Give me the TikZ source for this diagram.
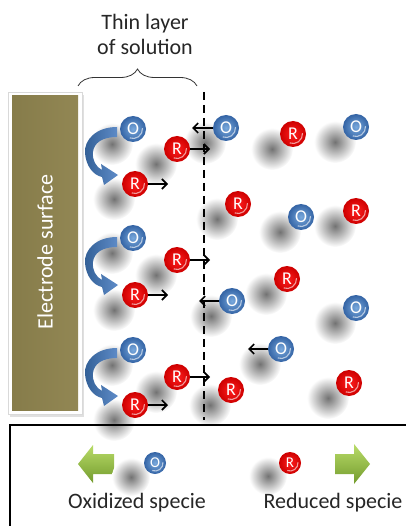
\documentclass[tikz,border=0pt]{standalone}
\usepackage{fontspec}
\setmainfont{Carlito}
\usetikzlibrary{arrows.meta,decorations.pathreplacing,calc}
\pgfdeclarelayer{background}
\pgfsetlayers{background,main}
\definecolor{olivebar}{RGB}{146,135,84}
\definecolor{olivedark}{RGB}{134,124,74}
\definecolor{rin}{RGB}{255,30,30}
\definecolor{rout}{RGB}{205,0,0}
\definecolor{oin}{RGB}{120,168,220}
\definecolor{oout}{RGB}{52,100,165}
\definecolor{curvdark}{RGB}{50,95,150}
\definecolor{curvlight}{RGB}{95,140,200}
\definecolor{greentop}{RGB}{185,220,105}
\definecolor{greenbot}{RGB}{115,155,45}
\begin{document}
\begin{tikzpicture}[x=1pt,y=-1pt,
  mol/.style={circle, minimum size=26pt, inner sep=0pt, text=white,
    font=\fontsize{18}{18}\selectfont},
  glint/.style={path picture={\draw[white,opacity=0.6,line width=1.1pt]
    ($(path picture bounding box.center)+(-5:#1)$) arc[start angle=-5,end angle=110,radius=#1];}},
  molR/.style={mol, inner color=rin, outer color=rout, glint=9.5},
  molO/.style={mol, inner color=oin, outer color=oout, glint=9.5},
  smallmol/.style={minimum size=22pt, font=\fontsize{15}{15}\selectfont, glint=8},
  blob/.style={inner color=black!55, outer color=white},
  arr/.style={-{Straight Barb[length=5pt,width=10pt]}, line width=1.6pt, black},
  curved/.style={left color=curvdark, right color=curvlight, draw=none},
  greenarrow/.style={top color=greentop, bottom color=greenbot, draw=none},
  label/.style={font=\fontsize{22}{26}\selectfont, text=black!85}
]
\useasboundingbox (0,0) rectangle (405,526);

% electrode plate
\fill[black!12] (10,95) rectangle (84,417);
\filldraw[fill=white, draw=black!15] (8,92) rectangle (82,414);
\shade[left color=olivedark, right color=olivebar] (12,96) rectangle (78,410);
\node[rotate=90, text=white, font=\fontsize{22}{26}\selectfont] (electrode) at (45,252) {Electrode surface};

% brace and caption of the layer next to the electrode
\node[label, align=center, font=\fontsize{22}{25}\selectfont] (layer) at (145,34) {Thin layer\\of solution};
\draw[decorate, decoration={brace, amplitude=17pt}, line width=0.8pt, black!80] (78,86) -- (197,86);

% molecules with their soft shadows
\foreach \n/\x/\y/\t in {o1/133/129/O, ra1/177/149/R, rb1/135/184/R,
  o2/133/238/O, ra2/177/260/R, rb2/135/295/R,
  o3/133/350/O, ra3/177/377/R, rb3/135/405/R,
  b1/226/128/O, b2/293/134/R, b3/356/127/O, b4/238/204/R, b5/301/217/O,
  b6/356/211/R, b7/287/279/R, b8/232/301/O, b9/356/308/O, b10/281/349/O,
  b11/231/390/R, b12/349/383/R}{
  \begin{pgfonlayer}{background}
    \shade[blob] (\x-21,\y+15) circle (21);
  \end{pgfonlayer}
  \node[mol\t] (\n) at (\x,\y) {\t};
}

% boundary of the layer
\draw[dash pattern=on 8pt off 5pt, line width=2pt] (204,92) -- (204,420);

% curved arrows: O is reduced to R at the electrode
\foreach \dy in {0,110,221}{
  \begin{scope}[shift={(0,\dy)}]
    \shade[curved] (117,127) .. controls (96,127) and (84,140) .. (85,153)
      .. controls (86,166) and (93,175) .. (102,177)
      -- (104,185) -- (118,175) -- (101,164) -- (102,170)
      .. controls (96,167) and (92,160) .. (93,152)
      .. controls (94,143) and (102,137) .. (117,137) -- cycle;
  \end{scope}
}

% motion of species
\coordinate (ta1) at (210,149);
\coordinate (ta2) at (210,260);
\coordinate (ta3) at (210,377);
\coordinate (tb1) at (168,184);
\coordinate (tb2) at (168,295);
\coordinate (tb3) at (168,405);
\coordinate (tl1) at (192,128);
\coordinate (tl2) at (199,301);
\coordinate (tl3) at (248,349);
\draw[arr] (ra1.east) -- (ta1);
\draw[arr] (ra2.east) -- (ta2);
\draw[arr] (ra3.east) -- (ta3);
\draw[arr] (rb1.east) -- (tb1);
\draw[arr] (rb2.east) -- (tb2);
\draw[arr] (rb3.east) -- (tb3);
\draw[arr] (b1.west) -- (tl1);
\draw[arr] (b8.west) -- (tl2);
\draw[arr] (b10.west) -- (tl3);

% legend
\draw[line width=1.5pt] (10,425) rectangle (412,532);
\shade[greenarrow] (78,464) -- (93,445) -- (93,454) -- (114,454) -- (114,474)
  -- (93,474) -- (93,483) -- cycle;
\shade[greenarrow] (370,464) -- (354,444) -- (354,454) -- (335,454) -- (335,474)
  -- (354,474) -- (354,484) -- cycle;
\shade[blob] (131,477) circle (19);
\shade[blob] (268,476) circle (19);
\node[molO, smallmol] (legO) at (155,463) {O};
\node[molR, smallmol] (legR) at (290,463) {R};
\node[label] (oxid) at (137,503) {Oxidized specie};
\node[label] (red) at (333,503) {Reduced specie};
\end{tikzpicture}
\end{document}
